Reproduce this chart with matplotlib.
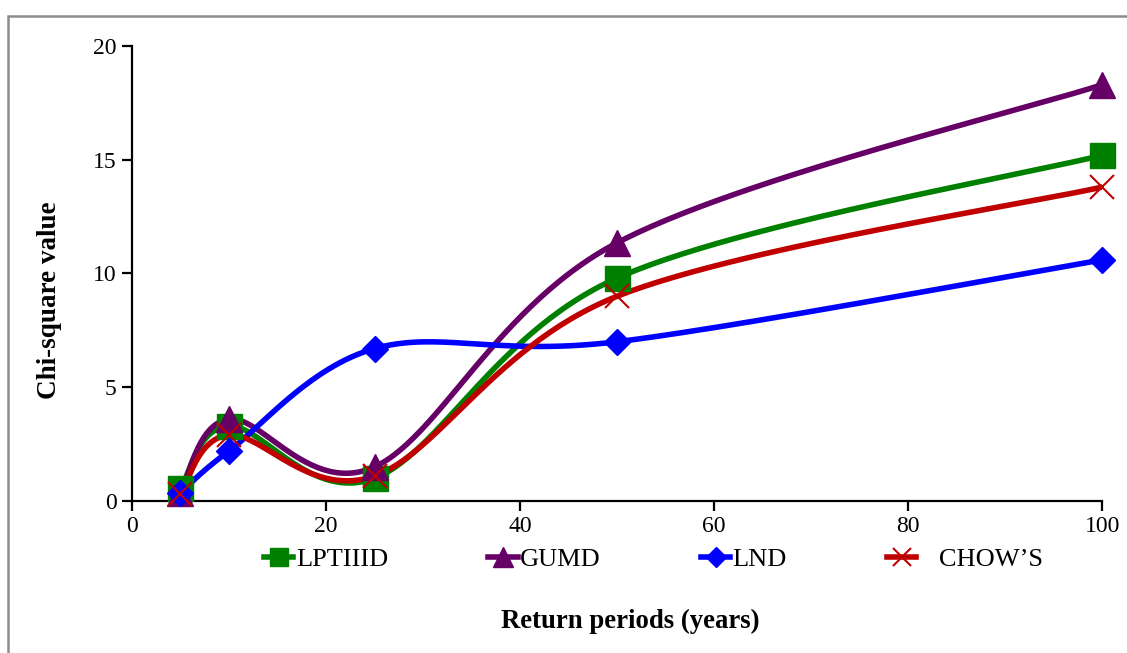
import numpy as np
import matplotlib
matplotlib.use("Agg")
import matplotlib.pyplot as plt
from matplotlib.patches import Rectangle
from matplotlib.lines import Line2D

plt.rcParams['font.family'] = ['Liberation Serif', 'DejaVu Serif']

return_periods = [5, 10, 25, 50, 100]
lptiiid = [0.55, 3.3, 1.0, 9.8, 15.2]
gumd = [0.35, 3.6, 1.5, 11.35, 18.3]
lnd = [0.35, 2.2, 6.7, 7.0, 10.6]
chows = [0.3, 2.9, 1.1, 9.0, 13.8]

series = [
    ("LPTIIID", lptiiid, "#008000", "s", 18, 1.0),
    ("GUMD", gumd, "#660066", "^", 19, 1.0),
    ("LND", lnd, "#0000FF", "D", 13, 1.0),
    ("CHOW\u2019S", chows, "#C00000", "x", 17, 1.5),
]


def smooth(xs, ys, n=60):
    """Excel-style smoothed line (Catmull-Rom Bezier) through the points."""
    P = np.column_stack([xs, ys]).astype(float)
    m = len(P)
    out = []
    t = np.linspace(0, 1, n)
    for i in range(m - 1):
        p0 = P[i - 1] if i > 0 else P[i]
        p1 = P[i]
        p2 = P[i + 1]
        p3 = P[i + 2] if i + 2 < m else P[i + 1]
        c1 = p1 + (p2 - p0) / 6.0
        c2 = p2 - (p3 - p1) / 6.0
        seg = ((1 - t) ** 3)[:, None] * p1 + (3 * (1 - t) ** 2 * t)[:, None] * c1 \
            + (3 * (1 - t) * t ** 2)[:, None] * c2 + (t ** 3)[:, None] * p2
        out.append(seg if i == 0 else seg[1:])
    S = np.vstack(out)
    return S[:, 0], S[:, 1]


fig = plt.figure(figsize=(11.27, 6.53), dpi=100)
ax = fig.add_axes([0.1171, 0.2328, 0.8610, 0.6968])

handles = []
for name, vals, col, mk, ms, mew in series:
    sx, sy = smooth(return_periods, vals)
    ax.plot(sx, sy, color=col, lw=4.0, solid_capstyle='round', zorder=2)
    ax.plot(return_periods, vals, linestyle='none', marker=mk, color=col,
            markersize=ms, markeredgewidth=mew if mk == 'x' else 1.0,
            markeredgecolor=col, zorder=3, clip_on=False)
    handles.append(Line2D([0], [0], color=col, lw=4.0, marker=mk,
                          markersize=ms * 0.75, markeredgewidth=mew if mk == 'x' else 1.0))

ax.set_xlim(0, 100)
ax.set_ylim(0, 20)
ax.set_xticks([0, 20, 40, 60, 80, 100])
ax.set_yticks([0, 5, 10, 15, 20])
for s in ['top', 'right']:
    ax.spines[s].set_visible(False)
for s in ['left', 'bottom']:
    ax.spines[s].set_linewidth(1.6)
ax.tick_params(direction='out', length=7, width=1.6, labelsize=17, pad=4)

ax.set_ylabel("Chi-square value", fontsize=19.5, fontweight='bold')
ax.yaxis.set_label_coords(-0.072, 0.442)
fig.text(0.559, 0.049, "Return periods (years)", ha='center', va='center',
         fontsize=19.3, fontweight='bold')

labels = ["LPTIIID", "GUMD", "LND", "   CHOW\u2019S"]
fig.legend(handles, labels, loc='center', bbox_to_anchor=(0.580, 0.143), ncol=4,
           frameon=False, fontsize=19, handlelength=1.1, handletextpad=0.1,
           columnspacing=3.8)

fig.patches.append(Rectangle((8 / 1127, -0.05), 1.1, 1 - 16 / 653 + 0.05,
                             transform=fig.transFigure, fill=False,
                             edgecolor='#8c8c8c', lw=1.8, clip_on=False))

fig.savefig("out.png", dpi=100)
